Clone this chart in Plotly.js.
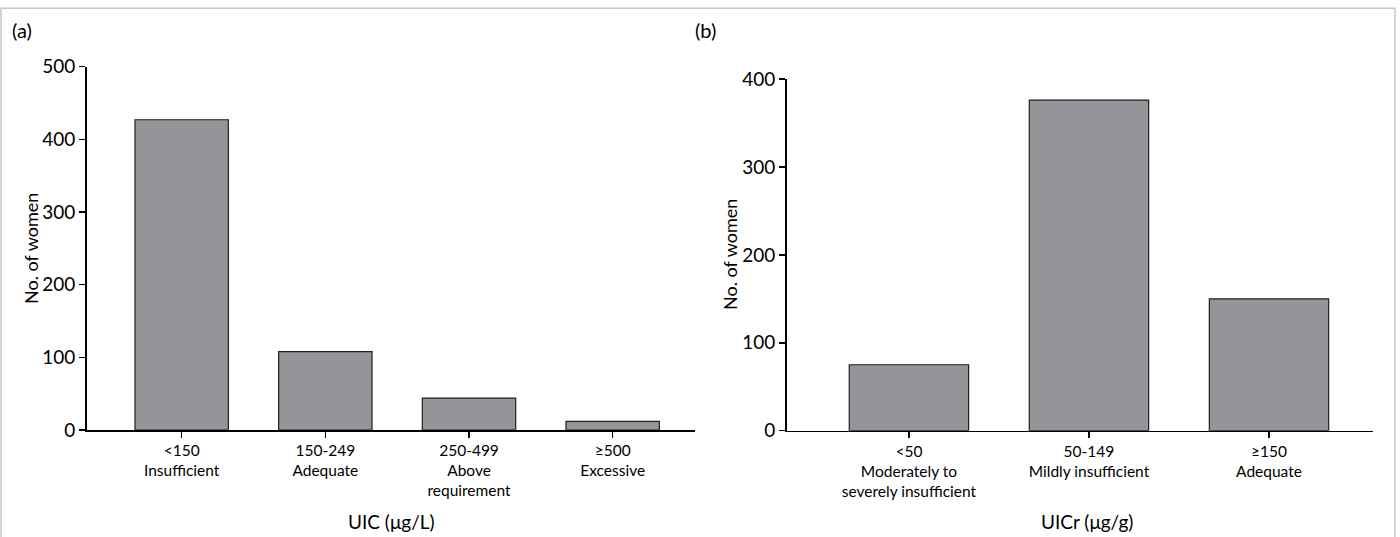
<!DOCTYPE html>
<html>
<head>
<meta charset="utf-8">
<script src="https://cdn.plot.ly/plotly-3.0.1.min.js"></script>
<style>html,body{margin:0;padding:0;background:#fff;}#chart{width:1400px;height:537px;}</style>
</head>
<body>
<div id="chart"></div>
<script>
// Panel (a): UIC categories
var uicCategories = ["&lt;150<br>Insufficient", "150-249<br>Adequate", "250-499<br>Above<br>requirement", "≥500<br>Excessive"];
var uicWomen = [427, 108, 44, 12];
// Panel (b): UICr categories
var uicrCategories = ["&lt;50<br>Moderately to<br>severely insufficient", "50-149<br>Mildly insufficient", "≥150<br>Adequate"];
var uicrWomen = [75, 376, 150];

var yTicksA = [0, 100, 200, 300, 400, 500];
var yTicksB = [0, 100, 200, 300, 400];

var W = 1400, H = 537;
function px(x){ return x / W; }
function py(y){ return 1 - y / H; }

var FONT = "Lato, 'Open Sans', sans-serif";
var barStyle = {color: "#939598", line: {color: "#231f20", width: 1.2}};

var traces = [
  {type: "bar", x: uicCategories, y: uicWomen, xaxis: "x", yaxis: "y",
   marker: barStyle, width: 0.65, hoverinfo: "y", showlegend: false},
  {type: "bar", x: uicrCategories, y: uicrWomen, xaxis: "x2", yaxis: "y2",
   marker: barStyle, width: 0.663, hoverinfo: "y", showlegend: false}
];

function xAxis(domain, anchor, range){
  return {domain: domain, anchor: anchor, type: "category", range: range,
    showline: true, linecolor: "#000", linewidth: 1.5,
    ticks: "outside", ticklen: 6, tickwidth: 1.5, tickcolor: "#000",
    showgrid: false, zeroline: false, fixedrange: true,
    tickfont: {family: FONT, size: 15.5, color: "#000"}};
}
function yAxis(domain, anchor, range, tv){
  return {domain: domain, anchor: anchor, range: range,
    tickvals: tv, ticktext: tv.map(String),
    showline: true, linecolor: "#000", linewidth: 1.5,
    ticks: "outside", ticklen: 6, tickwidth: 1.5, tickcolor: "#000",
    showgrid: false, zeroline: false, fixedrange: true,
    tickfont: {family: FONT, size: 19, color: "#000"}};
}

var layout = {
  width: W, height: H,
  margin: {l: 0, r: 0, t: 0, b: 0},
  paper_bgcolor: "#fff", plot_bgcolor: "rgba(0,0,0,0)",
  bargap: 0.35,
  xaxis: xAxis([px(86.7), px(695)], "y", [-0.661, 3.573]),
  yaxis: yAxis([py(430), py(66.7)], "x", [0, 500], yTicksA),
  xaxis2: xAxis([px(786.7), px(1372.7)], "y2", [-0.679, 2.576]),
  yaxis2: yAxis([py(430.7), py(79)], "x2", [0, 400], yTicksB),
  shapes: [
    {type: "rect", xref: "paper", yref: "paper",
     x0: px(1), x1: px(1395), y0: -0.05, y1: py(8.3),
     line: {color: "#c6c6c6", width: 1.5}, fillcolor: "rgba(0,0,0,0)", layer: "below"}
  ],
  annotations: [
    {text: "(a)", xref: "paper", yref: "paper", x: px(10), y: py(30), xanchor: "left", yanchor: "middle",
     showarrow: false, font: {family: FONT, size: 20, color: "#000"}},
    {text: "(b)", xref: "paper", yref: "paper", x: px(693), y: py(30), xanchor: "left", yanchor: "middle",
     showarrow: false, font: {family: FONT, size: 20, color: "#000"}},
    {text: "No. of women", xref: "paper", yref: "paper", x: px(31), y: py(248), textangle: -90,
     xanchor: "center", yanchor: "middle", showarrow: false, font: {family: FONT, size: 18, color: "#000"}},
    {text: "No. of women", xref: "paper", yref: "paper", x: px(730), y: py(255), textangle: -90,
     xanchor: "center", yanchor: "middle", showarrow: false, font: {family: FONT, size: 18, color: "#000"}},
    {text: "UIC (μg/L)", xref: "paper", yref: "paper", x: px(391), y: py(521),
     xanchor: "center", yanchor: "middle", showarrow: false, font: {family: FONT, size: 19, color: "#000"}},
    {text: "UICr (μg/g)", xref: "paper", yref: "paper", x: px(1087), y: py(521),
     xanchor: "center", yanchor: "middle", showarrow: false, font: {family: FONT, size: 19, color: "#000"}}
  ]
};

Plotly.newPlot("chart", traces, layout, {displayModeBar: false, staticPlot: true});
</script>
</body>
</html>
